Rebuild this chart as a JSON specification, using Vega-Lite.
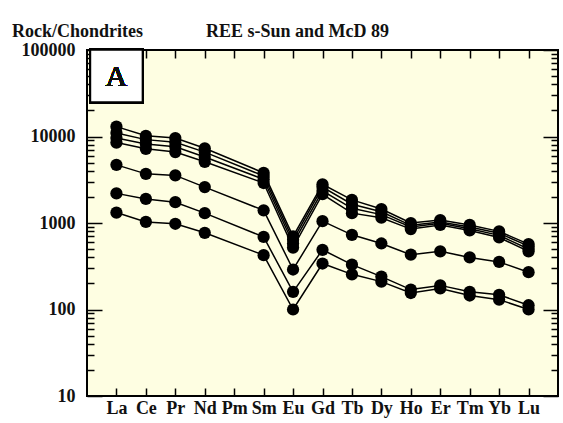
{
  "$schema": "https://vega.github.io/schema/vega-lite/v6.json",
  "width": 471,
  "height": 346,
  "autosize": "none",
  "padding": {"left": 87, "top": 50, "right": 5, "bottom": 27},
  "background": "white",
  "config": {
    "view": {"fill": "#fefee2", "stroke": "black", "strokeWidth": 2},
    "axis": {"domain": false, "grid": false, "labelFont": "Liberation Serif", "labelFontWeight": "bold", "labelFontSize": 18, "labelColor": "#111", "tickColor": "black", "tickWidth": 1.5, "zindex": 1}
  },
  "title": {
    "text": "Rock/Chondrites\u00a0\u00a0\u00a0\u00a0\u00a0\u00a0\u00a0\u00a0\u00a0\u00a0\u00a0\u00a0\u00a0\u00a0REE s-Sun and McD 89",
    "anchor": "start", "frame": "group", "dx": -75, "offset": 0, "dy": 0,
    "font": "Liberation Serif", "fontWeight": "bold", "fontSize": 18, "color": "#111"
  },
  "data": {"values": [
    {"series": "S1", "element": "La", "value": 13000}, {"series": "S1", "element": "Ce", "value": 10200}, {"series": "S1", "element": "Pr", "value": 9600}, {"series": "S1", "element": "Nd", "value": 7300}, {"series": "S1", "element": "Sm", "value": 3800}, {"series": "S1", "element": "Eu", "value": 700}, {"series": "S1", "element": "Gd", "value": 2800}, {"series": "S1", "element": "Tb", "value": 1850}, {"series": "S1", "element": "Dy", "value": 1450}, {"series": "S1", "element": "Ho", "value": 1000}, {"series": "S1", "element": "Er", "value": 1080}, {"series": "S1", "element": "Tm", "value": 950}, {"series": "S1", "element": "Yb", "value": 800}, {"series": "S1", "element": "Lu", "value": 570},
    {"series": "S2", "element": "La", "value": 11000}, {"series": "S2", "element": "Ce", "value": 9200}, {"series": "S2", "element": "Pr", "value": 8600}, {"series": "S2", "element": "Nd", "value": 6600}, {"series": "S2", "element": "Sm", "value": 3500}, {"series": "S2", "element": "Eu", "value": 640}, {"series": "S2", "element": "Gd", "value": 2600}, {"series": "S2", "element": "Tb", "value": 1650}, {"series": "S2", "element": "Dy", "value": 1350}, {"series": "S2", "element": "Ho", "value": 940}, {"series": "S2", "element": "Er", "value": 1030}, {"series": "S2", "element": "Tm", "value": 900}, {"series": "S2", "element": "Yb", "value": 760}, {"series": "S2", "element": "Lu", "value": 540},
    {"series": "S3", "element": "La", "value": 9600}, {"series": "S3", "element": "Ce", "value": 8200}, {"series": "S3", "element": "Pr", "value": 7600}, {"series": "S3", "element": "Nd", "value": 5800}, {"series": "S3", "element": "Sm", "value": 3200}, {"series": "S3", "element": "Eu", "value": 580}, {"series": "S3", "element": "Gd", "value": 2350}, {"series": "S3", "element": "Tb", "value": 1480}, {"series": "S3", "element": "Dy", "value": 1250}, {"series": "S3", "element": "Ho", "value": 900}, {"series": "S3", "element": "Er", "value": 990}, {"series": "S3", "element": "Tm", "value": 860}, {"series": "S3", "element": "Yb", "value": 720}, {"series": "S3", "element": "Lu", "value": 500},
    {"series": "S4", "element": "La", "value": 8500}, {"series": "S4", "element": "Ce", "value": 7200}, {"series": "S4", "element": "Pr", "value": 6600}, {"series": "S4", "element": "Nd", "value": 5100}, {"series": "S4", "element": "Sm", "value": 2900}, {"series": "S4", "element": "Eu", "value": 520}, {"series": "S4", "element": "Gd", "value": 2150}, {"series": "S4", "element": "Tb", "value": 1300}, {"series": "S4", "element": "Dy", "value": 1150}, {"series": "S4", "element": "Ho", "value": 850}, {"series": "S4", "element": "Er", "value": 950}, {"series": "S4", "element": "Tm", "value": 820}, {"series": "S4", "element": "Yb", "value": 680}, {"series": "S4", "element": "Lu", "value": 470},
    {"series": "S5", "element": "La", "value": 4700}, {"series": "S5", "element": "Ce", "value": 3700}, {"series": "S5", "element": "Pr", "value": 3550}, {"series": "S5", "element": "Nd", "value": 2600}, {"series": "S5", "element": "Sm", "value": 1400}, {"series": "S5", "element": "Eu", "value": 290}, {"series": "S5", "element": "Gd", "value": 1050}, {"series": "S5", "element": "Tb", "value": 730}, {"series": "S5", "element": "Dy", "value": 580}, {"series": "S5", "element": "Ho", "value": 430}, {"series": "S5", "element": "Er", "value": 470}, {"series": "S5", "element": "Tm", "value": 400}, {"series": "S5", "element": "Yb", "value": 355}, {"series": "S5", "element": "Lu", "value": 270},
    {"series": "S6", "element": "La", "value": 2200}, {"series": "S6", "element": "Ce", "value": 1900}, {"series": "S6", "element": "Pr", "value": 1740}, {"series": "S6", "element": "Nd", "value": 1300}, {"series": "S6", "element": "Sm", "value": 690}, {"series": "S6", "element": "Eu", "value": 160}, {"series": "S6", "element": "Gd", "value": 490}, {"series": "S6", "element": "Tb", "value": 330}, {"series": "S6", "element": "Dy", "value": 240}, {"series": "S6", "element": "Ho", "value": 170}, {"series": "S6", "element": "Er", "value": 190}, {"series": "S6", "element": "Tm", "value": 160}, {"series": "S6", "element": "Yb", "value": 148}, {"series": "S6", "element": "Lu", "value": 112},
    {"series": "S7", "element": "La", "value": 1320}, {"series": "S7", "element": "Ce", "value": 1030}, {"series": "S7", "element": "Pr", "value": 980}, {"series": "S7", "element": "Nd", "value": 770}, {"series": "S7", "element": "Sm", "value": 425}, {"series": "S7", "element": "Eu", "value": 100}, {"series": "S7", "element": "Gd", "value": 340}, {"series": "S7", "element": "Tb", "value": 255}, {"series": "S7", "element": "Dy", "value": 210}, {"series": "S7", "element": "Ho", "value": 155}, {"series": "S7", "element": "Er", "value": 175}, {"series": "S7", "element": "Tm", "value": 145}, {"series": "S7", "element": "Yb", "value": 130}, {"series": "S7", "element": "Lu", "value": 100}
  ]},
  "resolve": {"axis": {"x": "independent", "y": "independent"}},
  "layer": [
    {
      "mark": {"type": "line", "color": "black", "strokeWidth": 1.5},
      "encoding": {
        "x": {"field": "element", "type": "ordinal", "title": null,
              "scale": {"type": "point", "domain": ["La","Ce","Pr","Nd","Pm","Sm","Eu","Gd","Tb","Dy","Ho","Er","Tm","Yb","Lu"], "padding": 1},
              "axis": {"orient": "bottom", "ticks": true, "tickSize": -8, "labelPadding": 11, "labelAngle": 0}},
        "y": {"field": "value", "type": "quantitative", "title": null,
              "scale": {"type": "log", "domain": [10, 100000], "nice": false},
              "axis": {"orient": "left",
                       "values": [10,20,30,40,50,60,70,80,90,100,200,300,400,500,600,700,800,900,1000,2000,3000,4000,5000,6000,7000,8000,9000,10000,20000,30000,40000,50000,60000,70000,80000,90000,100000],
                       "format": "d",
                       "labelExpr": "indexof(['10','100','1000','10000','100000'], datum.label) >= 0 ? datum.label : ''",
                       "tickSize": {"condition": {"test": "indexof([10,100,1000,10000,100000], datum.value) >= 0", "value": -15}, "value": -7},
                       "labelPadding": 27}},
        "detail": {"field": "series"}
      }
    },
    {
      "mark": {"type": "circle", "color": "black", "size": 150, "opacity": 1},
      "encoding": {
        "x": {"field": "element", "type": "ordinal", "title": null,
              "axis": {"orient": "top", "ticks": true, "tickSize": -8, "labels": false}},
        "y": {"field": "value", "type": "quantitative", "title": null,
              "axis": {"orient": "right",
                       "values": [10,20,30,40,50,60,70,80,90,100,200,300,400,500,600,700,800,900,1000,2000,3000,4000,5000,6000,7000,8000,9000,10000,20000,30000,40000,50000,60000,70000,80000,90000,100000],
                       "tickSize": {"condition": {"test": "indexof([10,100,1000,10000,100000], datum.value) >= 0", "value": -15}, "value": -7},
                       "labels": false}}
      }
    },
    {
      "mark": {"type": "point", "shape": "square", "size": 2750, "filled": true, "fill": "white", "stroke": "black", "strokeWidth": 2, "opacity": 1},
      "encoding": {
        "x": {"datum": "La", "type": "ordinal", "axis": null},
        "y": {"datum": 50000, "type": "quantitative", "axis": null}
      }
    },
    {
      "mark": {"type": "text", "font": "Liberation Serif", "fontSize": 30, "fontWeight": "normal", "color": "#111", "baseline": "middle", "align": "center", "dy": 1},
      "encoding": {
        "x": {"datum": "La", "type": "ordinal", "axis": null},
        "y": {"datum": 50000, "type": "quantitative", "axis": null},
        "text": {"value": "A"}
      }
    }
  ]
}
